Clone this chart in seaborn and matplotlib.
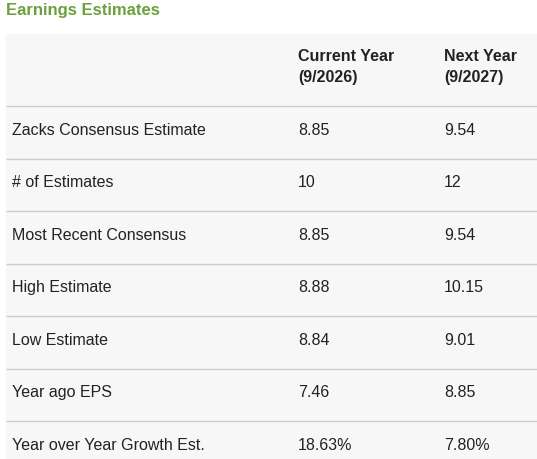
import matplotlib
matplotlib.use('Agg')
import matplotlib.pyplot as plt
import seaborn as sns

sns.set_theme(style='white')
plt.rcParams['font.family'] = ['Liberation Sans', 'DejaVu Sans']

# ── data ──
title = 'Earnings Estimates'
col_headers = ['Current Year\n(9/2026)', 'Next Year\n(9/2027)']
row_labels = ['Zacks Consensus Estimate', '# of Estimates', 'Most Recent Consensus',
              'High Estimate', 'Low Estimate', 'Year ago EPS', 'Year over Year Growth Est.']
current_year = ['8.85', '10', '8.85', '8.88', '8.84', '7.46', '18.63%']
next_year = ['9.54', '12', '9.54', '10.15', '9.01', '8.85', '7.80%']

# ── layout (pixels) ──
W, H = 537, 460
col_x = [12, 298, 444]
header_top, header_bot = 35, 107
row_h = 52.5

fig = plt.figure(figsize=(W / 100, H / 100), dpi=100)
ax = fig.add_axes([0, 0, 1, 1])
ax.set_xlim(0, W)
ax.set_ylim(H, 0)
ax.axis('off')

ax.add_patch(plt.Rectangle((6, header_top), W - 6, H - header_top,
                           color='#f7f7f7', zorder=0))
ax.text(6, 11, title, color='#6aa13d', fontsize=12, fontweight='bold', va='center')

for x, h in zip(col_x[1:], col_headers):
    ax.text(x, 67, h, fontsize=11.5, fontweight='bold', va='center',
            color='#222222', linespacing=1.45)

ax.hlines(header_bot, 6, W, color='#cccccc', lw=1)
for i, (lab, c, n) in enumerate(zip(row_labels, current_year, next_year)):
    yc = header_bot + row_h * (i + 0.5) - 3
    for x, t in zip(col_x, [lab, c, n]):
        ax.text(x, yc, t, fontsize=11.5, va='center', color='#222222')
    if i < len(row_labels) - 1:
        ax.hlines(header_bot + row_h * (i + 1), 6, W, color='#cccccc', lw=1)

fig.savefig('out.png', dpi=100)
